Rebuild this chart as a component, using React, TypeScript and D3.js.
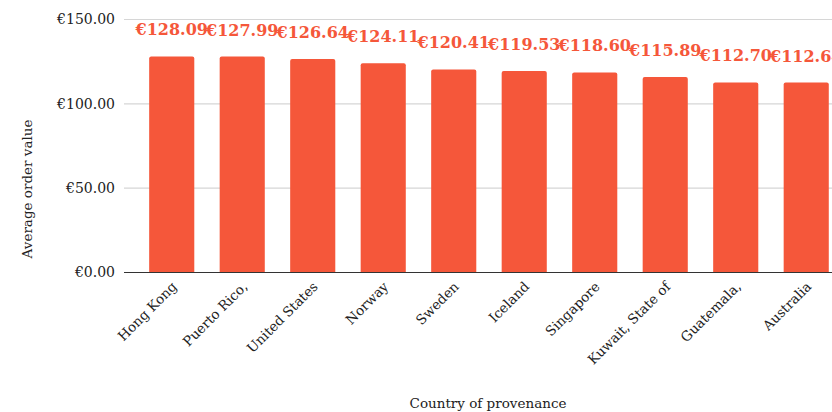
import React from "react";
import * as d3 from "d3";

const countries = [
  "Hong Kong",
  "Puerto Rico,",
  "United States",
  "Norway",
  "Sweden",
  "Iceland",
  "Singapore",
  "Kuwait, State of",
  "Guatemala,",
  "Australia",
];
const values = [128.09, 127.99, 126.64, 124.11, 120.41, 119.53, 118.6, 115.89, 112.7, 112.64];
const yTicks = [0, 50, 100, 150];

const W = 832;
const H = 412;
const FONT = "Georgia, 'DejaVu Serif', serif";
const RED = "#f5573a";

export default function App() {
  const x0 = 124;
  const step = 70.5;
  const pIn = 0.36;
  const pOut = 0.357;
  const x1 = x0 + step * (countries.length - pIn + 2 * pOut);
  const x = d3.scaleBand<string>().domain(countries).range([x0, x1]).paddingInner(pIn).paddingOuter(pOut);
  const y = d3.scaleLinear().domain([0, 150]).range([272.5, 19.5]);
  const fmt = (v: number) => "€" + d3.format(".2f")(v);
  const bw = x.bandwidth();
  const r = 2;

  const barPath = (xs: number, yt: number, w: number, yb: number) => {
    const p = d3.path();
    p.moveTo(xs, yb);
    p.lineTo(xs, yt + r);
    p.quadraticCurveTo(xs, yt, xs + r, yt);
    p.lineTo(xs + w - r, yt);
    p.quadraticCurveTo(xs + w, yt, xs + w, yt + r);
    p.lineTo(xs + w, yb);
    p.closePath();
    return p.toString();
  };

  return (
    <svg
      width={W}
      height={H}
      style={{ position: "absolute", left: 0, top: 0, background: "#fff" }}
      fontFamily={FONT}
    >
      {yTicks.map((t) => (
        <g key={t}>
          {t !== 0 && (
            <line x1={x0} x2={W} y1={y(t)} y2={y(t)} stroke="#d6d6d6" strokeWidth={1.2} />
          )}
          <text x={x0 - 9} y={y(t)} dy="0.35em" textAnchor="end" fontSize={14} fill="#222">
            {fmt(t)}
          </text>
        </g>
      ))}
      {countries.map((c, i) => (
        <path key={c} d={barPath(x(c)!, y(values[i]), bw, y(0))} fill={RED} />
      ))}
      <line x1={x0} x2={W} y1={y(0)} y2={y(0)} stroke="#333" strokeWidth={1.2} />
      {countries.map((c, i) => (
        <text
          key={"v" + c}
          x={x(c)! + bw / 2}
          y={y(values[i]) - 21}
          textAnchor="middle"
          fontSize={16}
          fontWeight="bold"
          fill={RED}
        >
          {fmt(values[i])}
        </text>
      ))}
      {countries.map((c) => {
        const cx = x(c)! + bw / 2 + 6;
        const cy = y(0) + 15;
        return (
          <text
            key={"l" + c}
            transform={`translate(${cx},${cy}) rotate(-45)`}
            textAnchor="end"
            fontSize={13.5}
            fill="#222"
          >
            {c}
          </text>
        );
      })}
      <text x={488} y={408} textAnchor="middle" fontSize={13.5} fill="#222">
        Country of provenance
      </text>
      <text
        transform={`translate(32,189) rotate(-90)`}
        textAnchor="middle"
        fontSize={13.5}
        fill="#222"
      >
        Average order value
      </text>
    </svg>
  );
}
